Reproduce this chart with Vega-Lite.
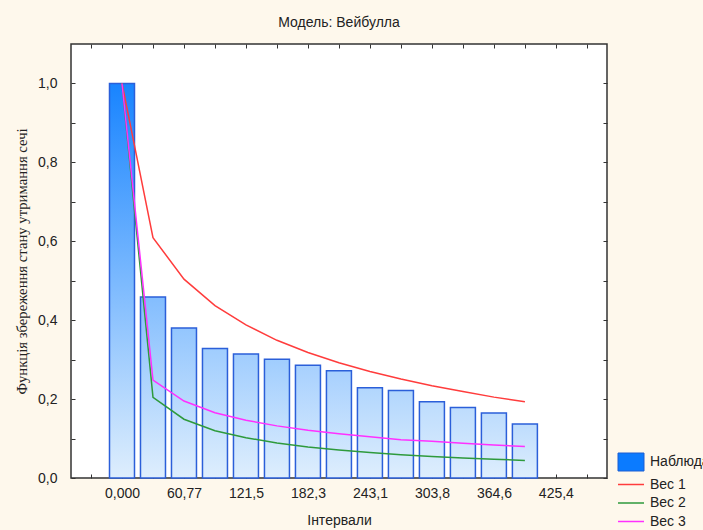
{
  "$schema": "https://vega.github.io/schema/vega-lite/v6.json",
  "autosize": "none",
  "width": 536,
  "height": 434,
  "padding": {"left": 71, "top": 44, "right": 96, "bottom": 52},
  "background": "#fef8ec",
  "title": {
    "text": "Модель: Вейбулла",
    "font": "Liberation Sans",
    "fontSize": 14,
    "fontWeight": "normal",
    "color": "#222222",
    "anchor": "middle",
    "frame": "group",
    "offset": 14
  },
  "config": {
    "view": {"fill": "white", "stroke": "#333333", "strokeWidth": 1.5},
    "axis": {
      "labelFont": "Liberation Sans",
      "labelFontSize": 14,
      "labelColor": "#222222",
      "titleFont": "Liberation Sans",
      "titleFontSize": 14,
      "titleFontWeight": "normal",
      "titleColor": "#222222",
      "domain": false,
      "grid": false,
      "tickColor": "#333333",
      "tickSize": -4,
      "tickWidth": 1
    }
  },
  "datasets": {
    "obs": [
      {"x": 0, "s": 1.0},
      {"x": 30.3846, "s": 0.459},
      {"x": 60.7692, "s": 0.38},
      {"x": 91.1538, "s": 0.328},
      {"x": 121.5385, "s": 0.314},
      {"x": 151.9231, "s": 0.301},
      {"x": 182.3077, "s": 0.286},
      {"x": 212.6923, "s": 0.272},
      {"x": 243.0769, "s": 0.229},
      {"x": 273.4615, "s": 0.222},
      {"x": 303.8462, "s": 0.1935},
      {"x": 334.2308, "s": 0.179},
      {"x": 364.6154, "s": 0.165},
      {"x": 395, "s": 0.137}
    ],
    "fit": [
      {"x": 0, "series": "Вес 1", "s": 1.0},
      {"x": 30.3846, "series": "Вес 1", "s": 0.609},
      {"x": 60.7692, "series": "Вес 1", "s": 0.504},
      {"x": 91.1538, "series": "Вес 1", "s": 0.437},
      {"x": 121.5385, "series": "Вес 1", "s": 0.388},
      {"x": 151.9231, "series": "Вес 1", "s": 0.349},
      {"x": 182.3077, "series": "Вес 1", "s": 0.318},
      {"x": 212.6923, "series": "Вес 1", "s": 0.292},
      {"x": 243.0769, "series": "Вес 1", "s": 0.27},
      {"x": 273.4615, "series": "Вес 1", "s": 0.251},
      {"x": 303.8462, "series": "Вес 1", "s": 0.234},
      {"x": 334.2308, "series": "Вес 1", "s": 0.219},
      {"x": 364.6154, "series": "Вес 1", "s": 0.205},
      {"x": 395, "series": "Вес 1", "s": 0.193},
      {"x": 0, "series": "Вес 2", "s": 1.0},
      {"x": 30.3846, "series": "Вес 2", "s": 0.2045},
      {"x": 60.7692, "series": "Вес 2", "s": 0.149},
      {"x": 91.1538, "series": "Вес 2", "s": 0.12},
      {"x": 121.5385, "series": "Вес 2", "s": 0.102},
      {"x": 151.9231, "series": "Вес 2", "s": 0.0888},
      {"x": 182.3077, "series": "Вес 2", "s": 0.0788},
      {"x": 212.6923, "series": "Вес 2", "s": 0.0709},
      {"x": 243.0769, "series": "Вес 2", "s": 0.0646},
      {"x": 273.4615, "series": "Вес 2", "s": 0.0592},
      {"x": 303.8462, "series": "Вес 2", "s": 0.0547},
      {"x": 334.2308, "series": "Вес 2", "s": 0.0508},
      {"x": 364.6154, "series": "Вес 2", "s": 0.0475},
      {"x": 395, "series": "Вес 2", "s": 0.0445},
      {"x": 0, "series": "Вес 3", "s": 1.0},
      {"x": 30.3846, "series": "Вес 3", "s": 0.248},
      {"x": 60.7692, "series": "Вес 3", "s": 0.195},
      {"x": 91.1538, "series": "Вес 3", "s": 0.1656},
      {"x": 121.5385, "series": "Вес 3", "s": 0.1463},
      {"x": 151.9231, "series": "Вес 3", "s": 0.1321},
      {"x": 182.3077, "series": "Вес 3", "s": 0.121},
      {"x": 212.6923, "series": "Вес 3", "s": 0.112},
      {"x": 243.0769, "series": "Вес 3", "s": 0.1047},
      {"x": 273.4615, "series": "Вес 3", "s": 0.097},
      {"x": 303.8462, "series": "Вес 3", "s": 0.093},
      {"x": 334.2308, "series": "Вес 3", "s": 0.088},
      {"x": 364.6154, "series": "Вес 3", "s": 0.0837},
      {"x": 395, "series": "Вес 3", "s": 0.08}
    ]
  },
  "layer": [
    {
      "data": {"name": "obs"},
      "mark": {"type": "bar", "size": 25, "stroke": "#2b5fd9", "strokeWidth": 1.5},
      "encoding": {
        "x": {
          "field": "x",
          "type": "quantitative",
          "scale": {"domain": [-50, 475.5], "nice": false, "zero": false, "padding": 0},
          "axis": {
            "orient": "bottom",
            "title": "Інтервали",
            "titlePadding": 13,
            "labelPadding": 12,
            "values": [-30.3846, 0, 30.3846, 60.7692, 91.1538, 121.5385, 151.9231, 182.3077, 212.6923, 243.0769, 273.4615, 303.8462, 334.2308, 364.6154, 395, 425.3846, 455.7692],
            "labelExpr": "datum.value < 0 || round(datum.value / 30.3846) % 2 == 1 ? '' : datum.value == 0 ? '0,000' : replace(format(datum.value, '.4r'), '.', ',')"
          }
        },
        "y": {
          "field": "s",
          "type": "quantitative",
          "scale": {"domain": [0, 1.1], "nice": false},
          "axis": {
            "orient": "left",
            "title": "Функція збереження стану утримання сечі",
            "titleFont": "Liberation Serif",
            "titleFontSize": 14.7,
            "titlePadding": 8,
            "labelPadding": 18,
            "values": [0, 0.1, 0.2, 0.3, 0.4, 0.5, 0.6, 0.7, 0.8, 0.9, 1.0],
            "labelExpr": "round(datum.value * 10) % 2 == 1 ? '' : replace(format(datum.value, '.1f'), '.', ',')"
          }
        },
        "fill": {
          "condition": [
            {"test": "datum.s > 0.9", "value": {"gradient": "linear", "x1": 0, "y1": 0, "x2": 0, "y2": 1, "stops": [{"offset": 0, "color": "#1884ff"}, {"offset": 1, "color": "#deeefd"}]}},
            {"test": "datum.s > 0.42", "value": {"gradient": "linear", "x1": 0, "y1": 0, "x2": 0, "y2": 1, "stops": [{"offset": 0, "color": "#83bdfe"}, {"offset": 1, "color": "#deeefd"}]}},
            {"test": "datum.s > 0.35", "value": {"gradient": "linear", "x1": 0, "y1": 0, "x2": 0, "y2": 1, "stops": [{"offset": 0, "color": "#93c6fe"}, {"offset": 1, "color": "#deeefd"}]}},
            {"test": "datum.s > 0.29", "value": {"gradient": "linear", "x1": 0, "y1": 0, "x2": 0, "y2": 1, "stops": [{"offset": 0, "color": "#a0cdfe"}, {"offset": 1, "color": "#deeefd"}]}},
            {"test": "datum.s > 0.25", "value": {"gradient": "linear", "x1": 0, "y1": 0, "x2": 0, "y2": 1, "stops": [{"offset": 0, "color": "#a7d0fe"}, {"offset": 1, "color": "#deeefd"}]}},
            {"test": "datum.s > 0.2", "value": {"gradient": "linear", "x1": 0, "y1": 0, "x2": 0, "y2": 1, "stops": [{"offset": 0, "color": "#b1d6fd"}, {"offset": 1, "color": "#deeefd"}]}}
          ],
          "value": {"gradient": "linear", "x1": 0, "y1": 0, "x2": 0, "y2": 1, "stops": [{"offset": 0, "color": "#bddcfd"}, {"offset": 1, "color": "#deeefd"}]}
        }
      }
    },
    {
      "data": {"name": "fit"},
      "mark": {"type": "line", "strokeWidth": 1.5},
      "encoding": {
        "x": {
          "field": "x",
          "type": "quantitative",
          "scale": {"domain": [-50, 475.5], "nice": false, "zero": false, "padding": 0},
          "axis": {
            "orient": "top",
            "title": null,
            "labels": false,
            "values": [-30.3846, 0, 30.3846, 60.7692, 91.1538, 121.5385, 151.9231, 182.3077, 212.6923, 243.0769, 273.4615, 303.8462, 334.2308, 364.6154, 395, 425.3846, 455.7692]
          }
        },
        "y": {
          "field": "s",
          "type": "quantitative",
          "scale": {"domain": [0, 1.1], "nice": false},
          "axis": {
            "orient": "right",
            "title": null,
            "labels": false,
            "values": [0, 0.1, 0.2, 0.3, 0.4, 0.5, 0.6, 0.7, 0.8, 0.9, 1.0]
          }
        },
        "color": {
          "field": "series",
          "type": "nominal",
          "scale": {
            "domain": ["Наблюдаемые", "Вес 1", "Вес 2", "Вес 3"],
            "range": ["#1d5fd2", "#ff3c3c", "#2e9a3c", "#ff30ff"]
          },
          "legend": {
            "title": null,
            "orient": "none",
            "legendX": 553,
            "legendY": 411,
            "padding": 0,
            "rowPadding": 4.5,
            "symbolSize": 400,
            "symbolStrokeWidth": 1.5,
            "labelFont": "Liberation Sans",
            "labelFontSize": 14,
            "labelColor": "#222222",
            "labelOffset": 12,
            "labelLimit": 300,
            "encode": {
              "symbols": {
                "update": {
                  "shape": {"signal": "datum.value === 'Наблюдаемые' ? 'M-1.3,-0.9H1.3V0.9H-1.3Z' : 'M-1.3,0H1.3'"},
                  "fill": {"signal": "datum.value === 'Наблюдаемые' ? '#0b7bff' : 'transparent'"},
                  "strokeWidth": {"signal": "datum.value === 'Наблюдаемые' ? 1 : 1.5"}
                }
              }
            }
          }
        }
      }
    }
  ],
  "resolve": {"axis": {"x": "independent", "y": "independent"}}
}
